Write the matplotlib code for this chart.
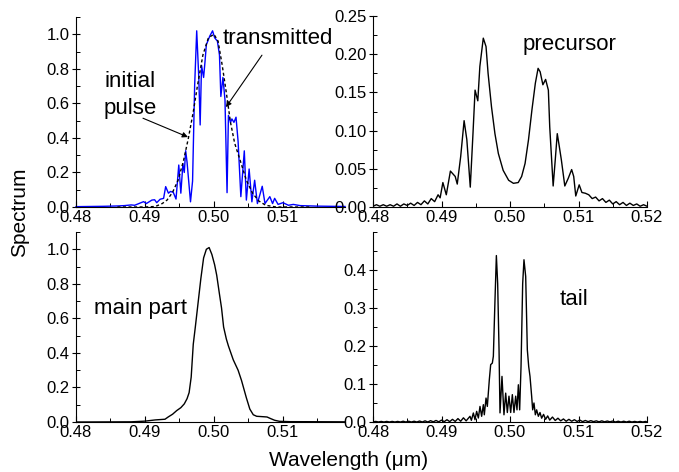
import numpy as np
import matplotlib
matplotlib.use("Agg")
import matplotlib.pyplot as plt
from matplotlib.ticker import MultipleLocator, FormatStrFormatter

plt.rcParams['font.family'] = ['Liberation Sans', 'DejaVu Sans']

# ---------------- data (wavelength in um, spectrum) ----------------
transmitted = [
    (0.4800, 0.002), (0.4820, 0.003), (0.4840, 0.004), (0.4860, 0.006), (0.4870, 0.008),
    (0.4880, 0.012), (0.4885, 0.010), (0.4890, 0.018), (0.4898, 0.031), (0.4902, 0.020),
    (0.4906, 0.030), (0.4910, 0.040), (0.4914, 0.042), (0.4917, 0.025), (0.4922, 0.045),
    (0.4927, 0.050), (0.4930, 0.118), (0.4934, 0.080), (0.4937, 0.090), (0.4941, 0.085),
    (0.4945, 0.046), (0.4949, 0.243), (0.4952, 0.080), (0.4955, 0.250), (0.4957, 0.200),
    (0.4959, 0.326), (0.4961, 0.260), (0.4966, 0.030), (0.4969, 0.150), (0.4972, 0.700),
    (0.4975, 1.020), (0.4978, 0.750), (0.4980, 0.475), (0.4982, 0.820), (0.4985, 0.750),
    (0.4987, 0.840), (0.4989, 0.940), (0.4994, 0.990), (0.4998, 1.020), (0.5001, 0.980),
    (0.5005, 0.960), (0.5008, 0.880), (0.5010, 0.640), (0.5013, 0.750), (0.5016, 0.620),
    (0.5019, 0.083), (0.5021, 0.530), (0.5024, 0.490), (0.5026, 0.510), (0.5029, 0.490),
    (0.5032, 0.520), (0.5035, 0.380), (0.5039, 0.060), (0.5044, 0.325), (0.5047, 0.040),
    (0.5051, 0.220), (0.5055, 0.030), (0.5059, 0.155), (0.5063, 0.020), (0.5070, 0.120),
    (0.5074, 0.020), (0.5081, 0.060), (0.5085, 0.020), (0.5088, 0.050), (0.5093, 0.015),
    (0.5100, 0.025), (0.5108, 0.010), (0.5115, 0.015), (0.5125, 0.008), (0.5150, 0.005),
    (0.5190, 0.003),
]

initial_pulse = [
    (0.4860, 0.000), (0.4900, 0.000), (0.4915, 0.003), (0.4925, 0.020), (0.4932, 0.040),
    (0.4940, 0.085), (0.4948, 0.155), (0.4956, 0.270), (0.4963, 0.400), (0.4970, 0.550),
    (0.4976, 0.700), (0.4984, 0.880), (0.4992, 0.980), (0.5000, 1.000), (0.5006, 0.960),
    (0.5012, 0.820), (0.5018, 0.660), (0.5024, 0.490), (0.5030, 0.370), (0.5038, 0.270),
    (0.5047, 0.155), (0.5056, 0.080), (0.5065, 0.035), (0.5075, 0.010), (0.5090, 0.000),
    (0.5140, 0.000),
]

precursor = [
    (0.4800, 0.001), (0.4805, 0.003), (0.4810, 0.001), (0.4815, 0.003), (0.4820, 0.001),
    (0.4825, 0.003), (0.4830, 0.001), (0.4835, 0.004), (0.4840, 0.001), (0.4845, 0.004),
    (0.4850, 0.002), (0.4855, 0.005), (0.4860, 0.002), (0.4865, 0.006), (0.4870, 0.003),
    (0.4875, 0.008), (0.4880, 0.004), (0.4885, 0.011), (0.4890, 0.007), (0.4895, 0.016),
    (0.4898, 0.012), (0.4902, 0.032), (0.4907, 0.016), (0.4913, 0.047), (0.4917, 0.043),
    (0.4920, 0.040), (0.4923, 0.030), (0.4928, 0.066), (0.4933, 0.113), (0.4937, 0.088),
    (0.4942, 0.026), (0.4946, 0.097), (0.4949, 0.153), (0.4953, 0.139), (0.4956, 0.184),
    (0.4961, 0.221), (0.4965, 0.210), (0.4968, 0.175), (0.4973, 0.131), (0.4978, 0.096),
    (0.4983, 0.070), (0.4990, 0.048), (0.4998, 0.035), (0.5005, 0.031), (0.5012, 0.032),
    (0.5017, 0.040), (0.5022, 0.057), (0.5027, 0.088), (0.5032, 0.127), (0.5037, 0.162),
    (0.5041, 0.1815), (0.5044, 0.177), (0.5048, 0.160), (0.5052, 0.167), (0.5056, 0.153),
    (0.5058, 0.105), (0.5063, 0.0275), (0.5066, 0.061), (0.5069, 0.096), (0.5072, 0.079),
    (0.5075, 0.0615), (0.5080, 0.0275), (0.5085, 0.0375), (0.5090, 0.049), (0.5093, 0.040),
    (0.5096, 0.0144), (0.5101, 0.029), (0.5105, 0.019), (0.5110, 0.018), (0.5115, 0.016),
    (0.5120, 0.011), (0.5125, 0.013), (0.5130, 0.008), (0.5135, 0.011), (0.5140, 0.006),
    (0.5145, 0.009), (0.5150, 0.004), (0.5155, 0.007), (0.5160, 0.003), (0.5165, 0.006),
    (0.5170, 0.002), (0.5175, 0.005), (0.5180, 0.002), (0.5185, 0.004), (0.5190, 0.001),
    (0.5195, 0.003), (0.5200, 0.001),
]

main_part = [
    (0.4800, 0.000), (0.4880, 0.001), (0.4900, 0.005), (0.4915, 0.012), (0.4929, 0.016),
    (0.4934, 0.030), (0.4940, 0.045), (0.4946, 0.066), (0.4952, 0.083), (0.4957, 0.105),
    (0.4961, 0.135), (0.4964, 0.170), (0.4967, 0.260), (0.4970, 0.450), (0.4973, 0.550),
    (0.4977, 0.690), (0.4981, 0.830), (0.4985, 0.950), (0.4989, 1.000), (0.4993, 1.010),
    (0.4997, 0.970), (0.5001, 0.910), (0.5004, 0.850), (0.5008, 0.740), (0.5011, 0.660),
    (0.5014, 0.550), (0.5018, 0.480), (0.5021, 0.440), (0.5028, 0.360), (0.5035, 0.300),
    (0.5040, 0.240), (0.5047, 0.140), (0.5052, 0.075), (0.5057, 0.042), (0.5062, 0.033),
    (0.5070, 0.031), (0.5077, 0.029), (0.5082, 0.020), (0.5088, 0.010), (0.5095, 0.004),
    (0.5110, 0.002), (0.5190, 0.001),
]

tail = [
    (0.4800, 0.000), (0.4804, 0.0015), (0.4808, 0.000), (0.4812, 0.0015), (0.4816, 0.000),
    (0.4820, 0.0015), (0.4824, 0.000), (0.4828, 0.0015), (0.4832, 0.000), (0.4836, 0.0015),
    (0.4840, 0.000), (0.4844, 0.002), (0.4848, 0.000), (0.4852, 0.002), (0.4856, 0.000),
    (0.4860, 0.002), (0.4864, 0.000), (0.4868, 0.0025), (0.4872, 0.000), (0.4876, 0.003),
    (0.4880, 0.000), (0.4884, 0.0035), (0.4888, 0.0005), (0.4892, 0.004), (0.4896, 0.0005),
    (0.4900, 0.005), (0.4904, 0.001), (0.4908, 0.006), (0.4912, 0.001), (0.4916, 0.007),
    (0.4920, 0.0015), (0.4924, 0.009), (0.4928, 0.002), (0.4932, 0.011), (0.4936, 0.003),
    (0.49416, 0.015), (0.49436, 0.0044), (0.49465, 0.0237), (0.49489, 0.006), (0.49513, 0.028),
    (0.49538, 0.0105), (0.49562, 0.041), (0.49586, 0.015), (0.49611, 0.0456), (0.49625, 0.019),
    (0.49650, 0.063), (0.49669, 0.041), (0.49698, 0.111), (0.49718, 0.151), (0.49742, 0.155),
    (0.49757, 0.173), (0.49781, 0.322), (0.49801, 0.438), (0.49820, 0.364), (0.49840, 0.190),
    (0.49854, 0.024), (0.49883, 0.120), (0.49912, 0.019), (0.49937, 0.076), (0.49961, 0.025),
    (0.49985, 0.068), (0.50010, 0.025), (0.50034, 0.072), (0.50058, 0.025), (0.50083, 0.068),
    (0.50102, 0.032), (0.50122, 0.098), (0.50141, 0.032), (0.50161, 0.146), (0.50185, 0.364),
    (0.50204, 0.427), (0.50229, 0.383), (0.50253, 0.190), (0.50273, 0.146), (0.50292, 0.120),
    (0.50316, 0.068), (0.50331, 0.032), (0.50350, 0.050), (0.50370, 0.019), (0.50389, 0.032),
    (0.50414, 0.015), (0.50438, 0.025), (0.50462, 0.010), (0.5049, 0.020), (0.5052, 0.007),
    (0.5055, 0.016), (0.5058, 0.005), (0.5062, 0.013), (0.5066, 0.004), (0.5070, 0.010),
    (0.5074, 0.003), (0.5078, 0.008), (0.5082, 0.002), (0.5086, 0.007), (0.5090, 0.002),
    (0.5094, 0.006), (0.5098, 0.0015), (0.5102, 0.005), (0.5106, 0.001), (0.5110, 0.004),
    (0.5114, 0.001), (0.5118, 0.0035), (0.5122, 0.001), (0.5126, 0.003), (0.5130, 0.0005),
    (0.5134, 0.003), (0.5138, 0.0005), (0.5142, 0.0025), (0.5146, 0.0005), (0.5150, 0.0025),
    (0.5154, 0.000), (0.5158, 0.002), (0.5162, 0.000), (0.5166, 0.002), (0.5170, 0.000),
    (0.5174, 0.002), (0.5178, 0.000), (0.5182, 0.0015), (0.5186, 0.000), (0.5190, 0.0015),
    (0.5194, 0.000), (0.5198, 0.0015), (0.5200, 0.000),
]

x_ticks_left = [0.48, 0.49, 0.50, 0.51]
x_ticks_right = [0.48, 0.49, 0.50, 0.51, 0.52]

# ---------------- figure ----------------
W, H = 679, 472
fig = plt.figure(figsize=(W / 100, H / 100), dpi=100)

def px_axes(l, r, t, b):
    return fig.add_axes([l / W, (H - b) / H, (r - l) / W, (b - t) / H])

ax_tl = px_axes(76, 345, 17, 207)
ax_tr = px_axes(373, 647, 16, 207)
ax_bl = px_axes(76, 345, 232, 422)
ax_br = px_axes(373, 647, 232, 422)

def style(ax, xlim, ylim, xticks, ymajor, yminor, yfmt, yticks=None):
    for s in ['top', 'right']:
        ax.spines[s].set_visible(False)
    for s in ['left', 'bottom']:
        ax.spines[s].set_linewidth(0.8)
    ax.set_xlim(*xlim)
    ax.set_ylim(*ylim)
    ax.set_xticks(xticks)
    ax.xaxis.set_minor_locator(MultipleLocator(0.005))
    if yticks is None:
        ax.yaxis.set_major_locator(MultipleLocator(ymajor))
    else:
        ax.set_yticks(yticks)
    ax.yaxis.set_minor_locator(MultipleLocator(yminor))
    ax.xaxis.set_major_formatter(FormatStrFormatter('%.2f'))
    ax.yaxis.set_major_formatter(FormatStrFormatter(yfmt))
    ax.tick_params(axis='x', which='major', direction='in', length=4, width=0.8,
                   labelsize=12, pad=2)
    ax.tick_params(axis='y', which='major', direction='inout', length=6, width=0.8,
                   labelsize=12, pad=1.5)
    ax.tick_params(which='minor', direction='in', length=3, width=0.7)
    ax.set_ylim(*ylim)
    ax.set_facecolor('none')

def xy(data):
    a = np.array(data)
    return a[:, 0], a[:, 1]

# top-left
tx, ty = xy(transmitted)
ix, iy = xy(initial_pulse)
ax_tl.plot(tx, ty, color='#0000ff', lw=1.0, clip_on=False)
ax_tl.plot(ix, iy, color='black', lw=1.0, linestyle=(0, (2.2, 1.8)))
style(ax_tl, (0.48, 0.519), (0, 1.1), x_ticks_left, 0.2, 0.1, '%.1f')
ax_tl.text(0.48406, 0.694, 'initial', fontsize=16, ha='left', va='baseline')
ax_tl.text(0.48406, 0.538, 'pulse', fontsize=16, ha='left', va='baseline')
ax_tl.annotate('', xy=(0.49623, 0.405), xytext=(0.48971, 0.514),
               arrowprops=dict(arrowstyle='-|>', lw=0.8, color='black',
                               mutation_scale=8, shrinkA=0, shrinkB=0))
ax_tl.text(0.50130, 0.942, 'transmitted', fontsize=16, ha='left', va='baseline')
ax_tl.annotate('', xy=(0.50174, 0.578), xytext=(0.50696, 0.879),
               arrowprops=dict(arrowstyle='-|>', lw=0.8, color='black',
                               mutation_scale=8, shrinkA=0, shrinkB=0))

# top-right
px_, py_ = xy(precursor)
ax_tr.plot(px_, py_, color='black', lw=1.0)
style(ax_tr, (0.48, 0.52), (0, 0.25), x_ticks_right, 0.05, 0.025, '%.2f')
ax_tr.text(0.5019, 0.2055, 'precursor', fontsize=16, ha='left', va='baseline')

# bottom-left
mx, my = xy(main_part)
ax_bl.plot(mx, my, color='black', lw=1.0)
style(ax_bl, (0.48, 0.519), (0, 1.1), x_ticks_left, 0.2, 0.1, '%.1f')
ax_bl.text(0.48261, 0.624, 'main part', fontsize=16, ha='left', va='baseline')

# bottom-right
bx, by = xy(tail)
ax_br.plot(bx, by, color='black', lw=1.0)
style(ax_br, (0.48, 0.52), (0, 0.5), x_ticks_right, 0.1, 0.05, '%.1f',
      yticks=[0.0, 0.1, 0.2, 0.3, 0.4])
ax_br.text(0.5073, 0.308, 'tail', fontsize=16, ha='left', va='baseline')

fig.text(20 / W, 1 - 212 / H, 'Spectrum', rotation=90, fontsize=15,
         ha='center', va='center')
fig.text(349 / W, 1 - 460 / H, 'Wavelength (\u03bcm)', fontsize=15,
         ha='center', va='center')

fig.savefig('out.png', dpi=100, facecolor='white')
